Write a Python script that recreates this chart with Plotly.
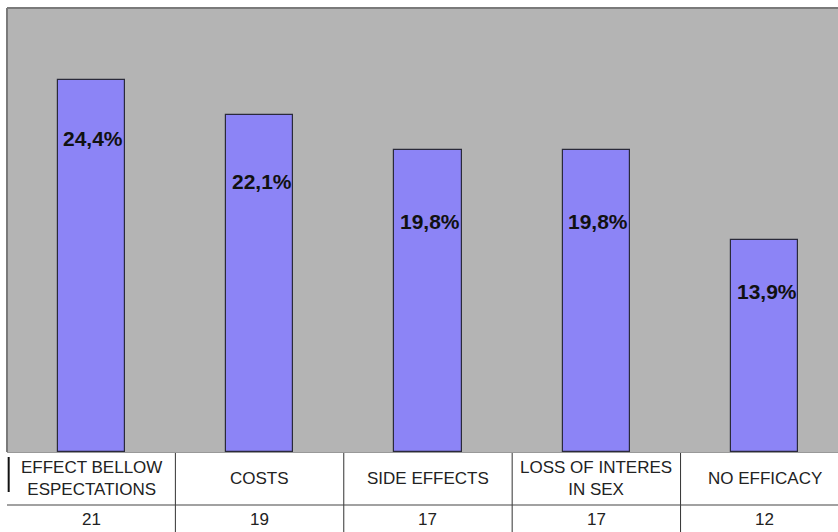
import plotly.graph_objects as go

categories = ["EFFECT BELLOW<br>ESPECTATIONS", "COSTS", "SIDE EFFECTS", "LOSS OF INTERES<br>IN SEX", "NO EFFICACY"]
percent = [24.4, 22.1, 19.8, 19.8, 13.9]
counts = [21, 19, 17, 17, 12]
pct_labels = ["24,4%", "22,1%", "19,8%", "19,8%", "13,9%"]
label_shift = [-59, -67, -72, -72, -52]  # px below bar top

W, H = 838, 532
top_m, table_h = 8, 80
plot_h = H - top_m
main_dom = [table_h / plot_h, 1]
tab_dom = [0, table_h / plot_h]
xr = [-0.5, 4.435]

fig = go.Figure()
idx = list(range(len(categories)))
fig.add_trace(go.Bar(
    x=idx, y=percent, width=0.4,
    marker=dict(color="#8C84F6", line=dict(color="#2a2a3a", width=1.2)),
    hoverinfo="skip", xaxis="x", yaxis="y",
))

annotations = []
for i, (v, lab, s) in enumerate(zip(percent, pct_labels, label_shift)):
    annotations.append(dict(x=i, y=v, xref="x", yref="y", text="<b>" + lab + "</b>",
                            showarrow=False, yshift=s, xshift=2,
                            font=dict(family="Liberation Sans, Arial", size=21, color="#111111")))
for i, (c, n) in enumerate(zip(categories, counts)):
    annotations.append(dict(x=i, y=54, xref="x2", yref="y2", text=c, showarrow=False,
                            font=dict(family="Liberation Sans, Arial", size=17, color="#222222")))
    annotations.append(dict(x=i, y=13, xref="x2", yref="y2", text=str(n), showarrow=False,
                            font=dict(family="Liberation Sans, Arial", size=17, color="#222222")))

shapes = []
# white table background
shapes.append(dict(type="rect", xref="x2", yref="y2", x0=-0.6, x1=4.6, y0=0, y1=80,
                   fillcolor="white", line=dict(width=0), layer="below"))
# table grid lines
for i in range(len(categories) - 1):
    shapes.append(dict(type="line", xref="x2", yref="y2", x0=i + 0.5, x1=i + 0.5, y0=0, y1=80,
                       line=dict(color="#333333", width=1)))
shapes.append(dict(type="line", xref="x2", yref="y2", x0=-0.5, x1=4.5, y0=27, y1=27,
                   line=dict(color="#444444", width=1.2)))
shapes.append(dict(type="line", xref="x2", yref="y2", x0=-0.5, x1=4.5, y0=79.5, y1=79.5,
                   line=dict(color="#999999", width=1)))
shapes.append(dict(type="line", xref="x2", yref="y2", x0=-0.49, x1=-0.49, y0=40, y1=75,
                   line=dict(color="#111111", width=2)))
# plot-area frame (top / left)
shapes.append(dict(type="line", xref="paper", yref="paper", x0=0, x1=1, y0=1, y1=1,
                   line=dict(color="#7a7a7a", width=2)))
shapes.append(dict(type="line", xref="paper", yref="paper", x0=0, x1=0, y0=main_dom[0], y1=1,
                   line=dict(color="#7a7a7a", width=2)))

fig.update_layout(
    width=W, height=H,
    margin=dict(l=7, r=0, t=top_m, b=0),
    paper_bgcolor="white",
    plot_bgcolor="#B4B4B4",
    showlegend=False,
    bargap=0,
    xaxis=dict(domain=[0, 1], range=xr, showticklabels=False, showgrid=False, zeroline=False,
               ticks="", anchor="y"),
    yaxis=dict(domain=main_dom, range=[0, 29.1], showticklabels=False, showgrid=False,
               zeroline=False, ticks="", anchor="x"),
    xaxis2=dict(domain=[0, 1], range=xr, showticklabels=False, showgrid=False, zeroline=False,
                ticks="", anchor="y2"),
    yaxis2=dict(domain=tab_dom, range=[0, 80], showticklabels=False, showgrid=False,
                zeroline=False, ticks="", anchor="x2"),
    annotations=annotations,
    shapes=shapes,
)
fig.write_html("out.html")
